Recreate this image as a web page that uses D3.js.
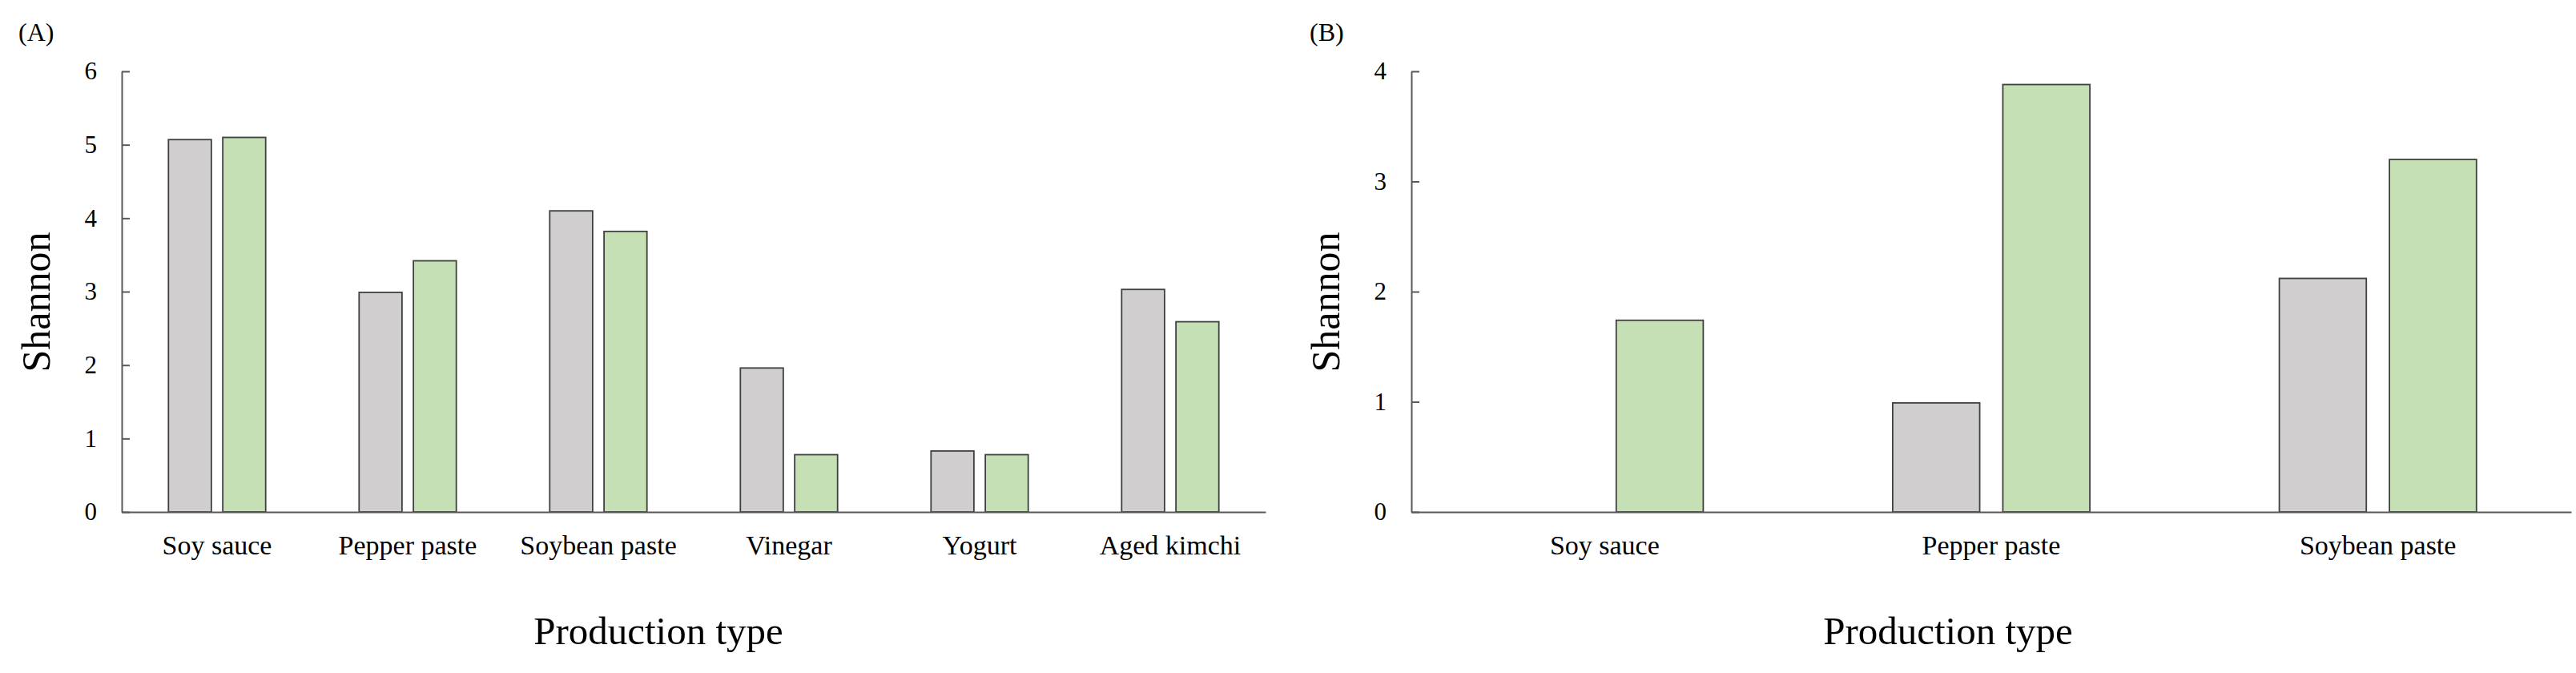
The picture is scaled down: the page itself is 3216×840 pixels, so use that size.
<!DOCTYPE html>
<html>
<head>
<meta charset="utf-8">
<script src="https://cdn.jsdelivr.net/npm/d3@7"></script>
<style>
  html, body { margin: 0; padding: 0; background: #fff; }
  svg { display: block; font-family: "Liberation Serif", "Times New Roman", serif; }
</style>
</head>
<body>
<div id="chart"></div>
<script>
// values
var seriesKeys = ["gray", "green"];
var seriesColors = ["#d0cece", "#c5e0b4"];

var categoriesA = ["Soy sauce", "Pepper paste", "Soybean paste", "Vinegar", "Yogurt", "Aged kimchi"];
var grayA = [5.07, 2.99, 4.10, 1.96, 0.83, 3.03];
var greenA = [5.10, 3.42, 3.82, 0.78, 0.78, 2.59];
var yTicksA = [0, 1, 2, 3, 4, 5, 6];

var categoriesB = ["Soy sauce", "Pepper paste", "Soybean paste"];
var grayB = [0, 0.99, 2.12];
var greenB = [1.74, 3.88, 3.20];
var yTicksB = [0, 1, 2, 3, 4];

(function() {
    var width = 3216, height = 840;
    var svg = d3.select("#chart").append("svg")
        .attr("width", width)
        .attr("height", height);

    function drawPanel(opts) {
        var g = svg.append("g");

        var x0 = d3.scaleBand()
            .domain(opts.categories)
            .range(opts.xRange)
            .paddingInner(0)
            .paddingOuter(0);

        var x1 = d3.scaleBand()
            .domain(seriesKeys)
            .range([0, x0.bandwidth()])
            .paddingInner(0.21)
            .paddingOuter(0.86);

        var y = d3.scaleLinear()
            .domain([0, d3.max(opts.yTicks)])
            .range([639, 89]);

        var color = d3.scaleOrdinal().domain(seriesKeys).range(seriesColors);

        var rows = opts.categories.map(function(c, i) {
            return { cat: c, values: [
                { key: "gray", value: opts.gray[i] },
                { key: "green", value: opts.green[i] }
            ]};
        });

        // bars
        g.selectAll(".grp")
            .data(rows)
            .enter().append("g")
            .attr("class", "grp")
            .attr("transform", d => "translate(" + x0(d.cat) + ",0)")
            .selectAll("rect")
            .data(d => d.values.filter(v => v.value > 0))
            .enter().append("rect")
            .attr("x", d => x1(d.key))
            .attr("width", x1.bandwidth())
            .attr("y", d => y(d.value))
            .attr("height", d => y(0) - y(d.value))
            .attr("fill", d => color(d.key))
            .attr("stroke", "#404040")
            .attr("stroke-width", 1.8);

        // y axis, ticks pointing inward
        var yAxis = g.append("g")
            .attr("transform", "translate(" + opts.xRange[0] + ",0)")
            .call(d3.axisLeft(y).tickValues(opts.yTicks).tickFormat(d3.format("d"))
                .tickSizeInner(-10).tickSizeOuter(0).tickPadding(31));

        // x axis
        var xAxis = g.append("g")
            .attr("transform", "translate(0," + y(0) + ")")
            .call(d3.axisBottom(x0).tickSize(0).tickPadding(29));

        [yAxis, xAxis].forEach(function(a) {
            a.attr("font-family", "Liberation Serif");
            a.selectAll("path, line").attr("stroke", "#595959").attr("stroke-width", 2);
            a.selectAll("text").attr("fill", "#000");
        });
        yAxis.selectAll("text").style("font-size", "31px");
        xAxis.selectAll("text").style("font-size", "34px");

        // axis titles
        g.append("text")
            .attr("transform", "translate(" + opts.yTitleX + ",377) rotate(-90)")
            .attr("text-anchor", "middle")
            .style("font-size", "50px")
            .text("Shannon");

        g.append("text")
            .attr("x", opts.xTitleX)
            .attr("y", 804)
            .attr("text-anchor", "middle")
            .style("font-size", "49px")
            .text("Production type");

        g.append("text")
            .attr("x", opts.labelX)
            .attr("y", 51)
            .style("font-size", "32px")
            .text(opts.label);
    }

    drawPanel({
        categories: categoriesA, gray: grayA, green: greenA, yTicks: yTicksA,
        xRange: [152, 1580], yTitleX: 62, xTitleX: 822, labelX: 23, label: "(A)"
    });

    drawPanel({
        categories: categoriesB, gray: grayB, green: greenB, yTicks: yTicksB,
        xRange: [1762, 3210], yTitleX: 1672, xTitleX: 2432, labelX: 1635, label: "(B)"
    });
})();
</script>
</body>
</html>
